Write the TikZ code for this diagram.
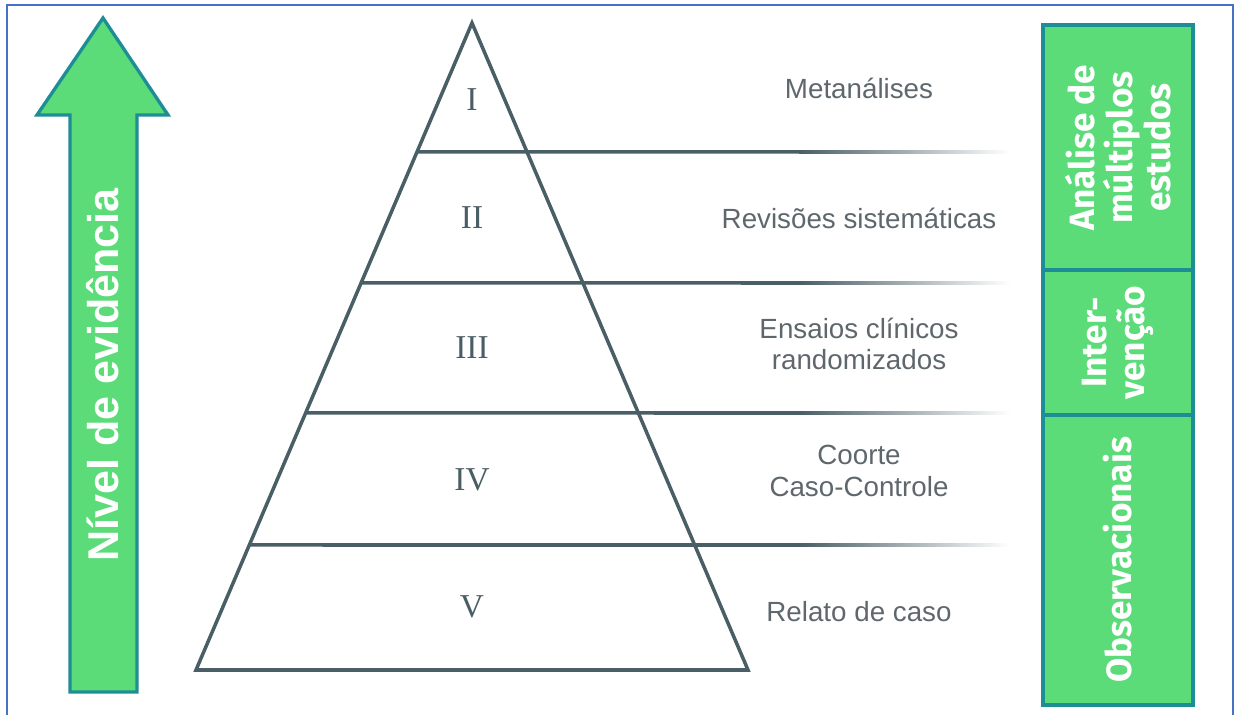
\documentclass[tikz,border=0pt]{standalone}
\usepackage{fontspec}
\setmainfont{Liberation Sans}
\newfontfamily\numfont{Liberation Serif}
\newfontfamily\boxfont{Fira Sans}
\usetikzlibrary{positioning,calc}
\definecolor{framebl}{HTML}{4472C4}
\definecolor{evgreen}{HTML}{5CDB79}
\definecolor{evteal}{HTML}{1E8E96}
\definecolor{pyrline}{HTML}{4A5E66}
\definecolor{labgray}{HTML}{5E686C}

\begin{document}
\begin{tikzpicture}[
    x=0.02cm, y=-0.02cm,
    pyr/.style={draw=pyrline, line width=2pt, line join=miter},
    numeral/.style={font=\numfont\fontsize{19}{22}\selectfont, text=pyrline},
    level/.style={font=\fontsize{15.8}{18}\selectfont, text=labgray, align=center},
    arrowtext/.style={font=\bfseries\fontsize{24.5}{26}\selectfont, text=white, rotate=90},
    panel/.style={draw=evteal, fill=evgreen, line width=2.3pt, rotate=90, minimum height=3cm,
        inner sep=0pt, text=white, align=center, font=\boxfont\bfseries\fontsize{20}{21.5}\selectfont}
]

% Frame
\useasboundingbox (0,0) rectangle (1241,715);
\clip (0,0) rectangle (1241,715);
\draw[framebl, line width=1.2pt] (7,5) rectangle (1233,730);

% Evidence arrow
\draw[evteal, fill=evgreen, line width=1.9pt, line join=miter]
    (70,692) -- (70,115) -- (37,115) -- (103,18) -- (168,115) -- (137,115) -- (137,692) -- cycle;
\node[arrowtext] (evid) at (103,375) {Nível de evidência};

% Pyramid
\coordinate (apex) at (472,23);
\coordinate (baseL) at (196,670);
\coordinate (baseR) at (748,670);
\draw[pyr] (apex) -- (baseL) -- (baseR) -- cycle;

% Level separators (fading to the right)
\foreach \yy in {152,283,413,545} {
    \draw[pyr] ($(apex)!{(\yy-23)/647}!(baseL)$) -- (800,\yy);
    \shade[left color=pyrline, right color=white] (799,\yy-1.76) rectangle (1010,\yy+1.76);
}

% Level numbers
\foreach \n/\yy in {I/100, II/218, III/348, IV/480, V/607} {
    \node[numeral] (num\n) at (472,\yy) {\n};
}

% Study types
\foreach \n/\yy/\txt in {
    I/88/Metanálises,
    II/218/Revisões sistemáticas,
    III/344/{Ensaios clínicos\\randomizados},
    IV/471/{Coorte\\Caso-Controle},
    V/612/Relato de caso} {
    \node[level] (lab\n) at (859,\yy) {\txt};
}

% Study groups on the right
\node[panel, minimum width=4.9cm] (multi) at (1118,147.5) {Análise de\\múltiplos\\estudos};
\node[panel, minimum width=2.9cm] (interv) at (1118,342.5) {Inter-\\venção};
\node[panel, minimum width=5.8cm] (obs) at (1118,560) {Observacionais};

\end{tikzpicture}
\end{document}
